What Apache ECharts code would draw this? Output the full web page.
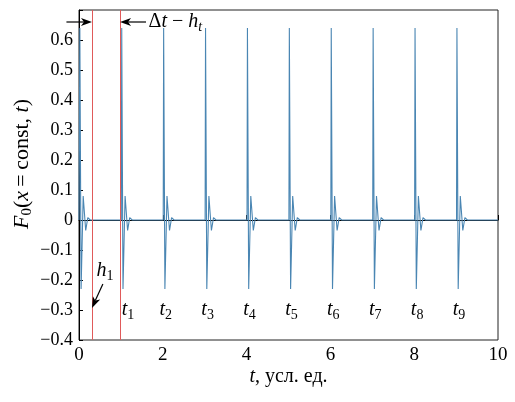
<!DOCTYPE html>
<html><head><meta charset="utf-8">
<script src="https://cdn.jsdelivr.net/npm/echarts@6/dist/echarts.min.js"></script>
<style>html,body{margin:0;padding:0;background:#fff}#c{width:515px;height:402px}</style>
</head><body><div id="c"></div>
<script>
// Signal F0(x=const, t): time points and values
const signalT = [
  0.00, 0.02, 0.05, 0.10, 0.16, 0.21, 0.27,
  1.01, 1.02, 1.05, 1.10, 1.16, 1.21, 1.27,
  2.01, 2.02, 2.05, 2.10, 2.16, 2.21, 2.27,
  3.01, 3.02, 3.05, 3.10, 3.16, 3.21, 3.27,
  4.01, 4.02, 4.05, 4.10, 4.16, 4.21, 4.27,
  5.01, 5.02, 5.05, 5.10, 5.16, 5.21, 5.27,
  6.01, 6.02, 6.05, 6.10, 6.16, 6.21, 6.27,
  7.01, 7.02, 7.05, 7.10, 7.16, 7.21, 7.27,
  8.01, 8.02, 8.05, 8.10, 8.16, 8.21, 8.27,
  9.01, 9.02, 9.05, 9.10, 9.16, 9.21, 9.27,
  10.0
];
const signalF = [
  0, 0.64, -0.23, 0.08, -0.035, 0.008, 0,
  0, 0.64, -0.23, 0.08, -0.035, 0.008, 0,
  0, 0.64, -0.23, 0.08, -0.035, 0.008, 0,
  0, 0.64, -0.23, 0.08, -0.035, 0.008, 0,
  0, 0.64, -0.23, 0.08, -0.035, 0.008, 0,
  0, 0.64, -0.23, 0.08, -0.035, 0.008, 0,
  0, 0.64, -0.23, 0.08, -0.035, 0.008, 0,
  0, 0.64, -0.23, 0.08, -0.035, 0.008, 0,
  0, 0.64, -0.23, 0.08, -0.035, 0.008, 0,
  0, 0.64, -0.23, 0.08, -0.035, 0.008, 0,
  0
];
// Markers
const redLinesT = [0.31, 0.98];
const pulseLabelNames = ['1','2','3','4','5','6','7','8','9'];
const pulseLabelT = [1.17, 2.07, 3.07, 4.07, 5.07, 6.07, 7.07, 8.07, 9.07];
const pulseLabelF = -0.30;
const xTicks = [0, 2, 4, 6, 8, 10];

const FONT = "Liberation Serif";
const chart = echarts.init(document.getElementById('c'), null, {renderer: 'canvas'});
const signalData = signalT.map((t, i) => [t, signalF[i]]);

chart.setOption({
  animation: false,
  backgroundColor: '#fff',
  textStyle: {fontFamily: FONT, color: '#000'},
  grid: {left: 79, right: 17, top: 10, bottom: 62, show: true, borderColor: '#222', borderWidth: 1,
         containLabel: false, outerBoundsMode: 'none'},
  xAxis: {
    type: 'value', min: xTicks[0], max: xTicks[xTicks.length - 1], interval: 2,
    axisLine: {lineStyle: {color: '#000', width: 1}},
    axisTick: {inside: true, length: 5, lineStyle: {color: '#000'}},
    splitLine: {show: false},
    axisLabel: {color: '#000', fontFamily: FONT, fontSize: 19, margin: 6,
      formatter: v => '{n|' + v + '}',
      rich: {n: {fontFamily: FONT, fontSize: 19, color: '#000'}}},
    name: '{i|t}, усл. ед.', nameLocation: 'middle', nameGap: 27, nameMoveOverlap: false,
    nameTextStyle: {color: '#000', fontFamily: FONT, fontSize: 20,
      rich: {i: {fontStyle: 'italic', fontFamily: FONT, fontSize: 20, color: '#000'}}}
  },
  yAxis: {
    type: 'value', min: -0.4, max: 0.7, interval: 0.1,
    axisLine: {lineStyle: {color: '#000', width: 1}},
    axisTick: {inside: true, length: 4, lineStyle: {color: '#000'}},
    splitLine: {show: false},
    axisLabel: {color: '#000', fontFamily: FONT, fontSize: 18, margin: 6,
      rich: {n: {fontFamily: FONT, fontSize: 18, color: '#000'}},
      formatter: v => {
        const r = Math.round(v * 10) / 10;
        if (r > 0.65) return '';
        if (r === 0) return '{n|0}';
        return '{n|' + (r < 0 ? '\u2212' : '') + Math.abs(r).toFixed(1) + '}';
      }},
    name: '{i|F}{s|0}({i|x}\u2009=\u2009const, {i|t})', nameLocation: 'middle', nameGap: 44, nameMoveOverlap: false,
    nameTextStyle: {color: '#000', fontFamily: FONT, fontSize: 22, lineHeight: 26, padding: [0, 0, 0, 22],
      rich: {
        i: {fontStyle: 'italic', fontFamily: FONT, fontSize: 22, color: '#000', lineHeight: 26},
        s: {fontFamily: FONT, fontSize: 15, color: '#000', verticalAlign: 'bottom', lineHeight: 17}
      }}
  },
  series: [{
    type: 'line', data: signalData, showSymbol: false, clip: true,
    lineStyle: {color: '#4a86b3', width: 1.1}, z: 3,
    markLine: {
      silent: true, symbol: ['none', 'none'], label: {show: false},
      lineStyle: {color: '#e05a5a', width: 1, type: 'solid'},
      data: redLinesT.map(t => ({xAxis: t}))
    }
  }]
});

function px(t, f) { return chart.convertToPixel({gridIndex: 0}, [t, f]); }
function arrowHead(tip, dir) {
  const L = 11, W = 4, N = 8;
  const nx = -dir[1], ny = dir[0];
  const b = [tip[0] - dir[0] * L, tip[1] - dir[1] * L];
  const m = [tip[0] - dir[0] * N, tip[1] - dir[1] * N];
  return {type: 'polygon', shape: {points: [tip, [b[0] + nx * W, b[1] + ny * W], m, [b[0] - nx * W, b[1] - ny * W]]},
    style: {fill: '#000'}, z: 10};
}
function arrow(from, to) {
  const dx = to[0] - from[0], dy = to[1] - from[1];
  const len = Math.hypot(dx, dy);
  const dir = [dx / len, dy / len];
  const end = [to[0] - dir[0] * 8, to[1] - dir[1] * 8];
  return [
    {type: 'line', shape: {x1: from[0], y1: from[1], x2: end[0], y2: end[1]}, style: {stroke: '#000', lineWidth: 1.2}, z: 10},
    arrowHead(to, dir)
  ];
}
const richI = {
  a: {fontFamily: FONT, fontSize: 20, fill: '#000', lineHeight: 24},
  i: {fontFamily: FONT, fontStyle: 'italic', fontSize: 20, fill: '#000', lineHeight: 24},
  s: {fontFamily: FONT, fontSize: 14, fill: '#000', verticalAlign: 'bottom', lineHeight: 16},
  si: {fontFamily: FONT, fontStyle: 'italic', fontSize: 14, fill: '#000', verticalAlign: 'bottom', lineHeight: 16}
};
const topY = 0.66;
const g = [];
g.push(...arrow(px(-0.3, topY), px(redLinesT[0], topY)));
g.push(...arrow(px(1.6, topY), px(redLinesT[1], topY)));
const tp = px(1.66, topY);
g.push({type: 'text', x: tp[0], y: tp[1], z: 10, style: {
  text: '{a|\u0394}{i|t}{a| \u2212 }{i|h}{si|t}', verticalAlign: 'middle', align: 'left',
  rich: richI, fontFamily: FONT, fontSize: 20, fill: '#000'}});
// h1 label and arrow
const hp = px(0.42, -0.17);
g.push({type: 'text', x: hp[0], y: hp[1], z: 10, style: {
  text: '{i|h}{s|1}', verticalAlign: 'middle', align: 'left',
  rich: richI, fontFamily: FONT, fontSize: 20, fill: '#000'}});
g.push(...arrow(px(0.57, -0.213), px(redLinesT[0], -0.293)));
// pulse labels t1..t9
pulseLabelNames.forEach((n, i) => {
  const p = px(pulseLabelT[i], pulseLabelF);
  g.push({type: 'text', x: p[0], y: p[1], z: 10, style: {
    text: '{i|t}{s|' + n + '}', verticalAlign: 'middle', align: 'center',
    rich: richI, fontFamily: FONT, fontSize: 20, fill: '#000'}});
});
chart.setOption({graphic: g});
</script>
</body></html>
